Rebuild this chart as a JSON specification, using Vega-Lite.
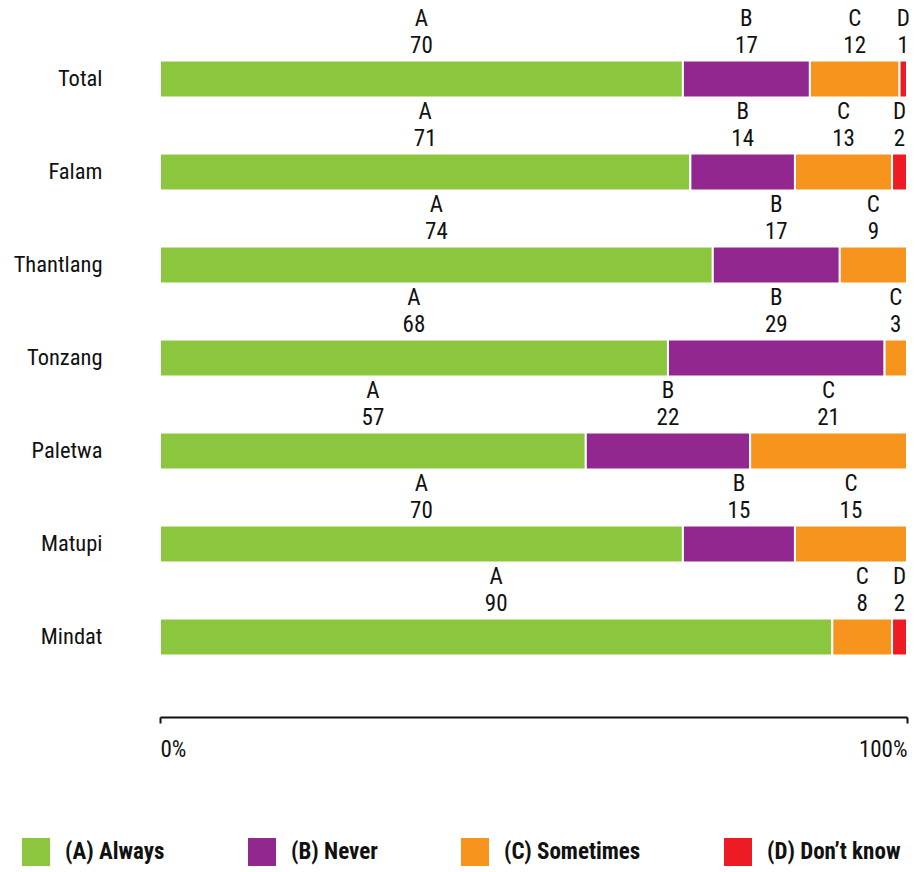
{
  "$schema": "https://vega.github.io/schema/vega-lite/v6.json",
  "autosize": {"type": "none"},
  "width": 747,
  "height": 651,
  "padding": {"left": 160, "top": 10, "right": 8, "bottom": 211},
  "background": "white",
  "config": {
    "font": "Roboto Condensed, Roboto, sans-serif",
    "view": {"stroke": null}
  },
  "data": {
    "values": [
      {"region": "Total", "code": "A", "answer": "(A) Always", "value": 70},
      {"region": "Total", "code": "B", "answer": "(B) Never", "value": 17},
      {"region": "Total", "code": "C", "answer": "(C) Sometimes", "value": 12},
      {"region": "Total", "code": "D", "answer": "(D) Don’t know", "value": 1},
      {"region": "Falam", "code": "A", "answer": "(A) Always", "value": 71},
      {"region": "Falam", "code": "B", "answer": "(B) Never", "value": 14},
      {"region": "Falam", "code": "C", "answer": "(C) Sometimes", "value": 13},
      {"region": "Falam", "code": "D", "answer": "(D) Don’t know", "value": 2},
      {"region": "Thantlang", "code": "A", "answer": "(A) Always", "value": 74},
      {"region": "Thantlang", "code": "B", "answer": "(B) Never", "value": 17},
      {"region": "Thantlang", "code": "C", "answer": "(C) Sometimes", "value": 9},
      {"region": "Tonzang", "code": "A", "answer": "(A) Always", "value": 68},
      {"region": "Tonzang", "code": "B", "answer": "(B) Never", "value": 29},
      {"region": "Tonzang", "code": "C", "answer": "(C) Sometimes", "value": 3},
      {"region": "Paletwa", "code": "A", "answer": "(A) Always", "value": 57},
      {"region": "Paletwa", "code": "B", "answer": "(B) Never", "value": 22},
      {"region": "Paletwa", "code": "C", "answer": "(C) Sometimes", "value": 21},
      {"region": "Matupi", "code": "A", "answer": "(A) Always", "value": 70},
      {"region": "Matupi", "code": "B", "answer": "(B) Never", "value": 15},
      {"region": "Matupi", "code": "C", "answer": "(C) Sometimes", "value": 15},
      {"region": "Mindat", "code": "A", "answer": "(A) Always", "value": 90},
      {"region": "Mindat", "code": "C", "answer": "(C) Sometimes", "value": 8},
      {"region": "Mindat", "code": "D", "answer": "(D) Don’t know", "value": 2}
    ]
  },
  "transform": [
    {"stack": "value", "groupby": ["region"], "sort": [{"field": "code", "order": "ascending"}], "as": ["x0", "x1"]},
    {"calculate": "(datum.x0 + datum.x1) / 2", "as": "mid"}
  ],
  "encoding": {
    "y": {
      "field": "region",
      "type": "nominal",
      "sort": ["Total", "Falam", "Thantlang", "Tonzang", "Paletwa", "Matupi", "Mindat"],
      "scale": {"paddingInner": 0, "paddingOuter": 0},
      "axis": {
        "title": null,
        "domain": false,
        "ticks": false,
        "labelPadding": 58,
        "labelFontSize": 22.5,
        "labelColor": "#111",
        "labelOffset": 22
      }
    }
  },
  "layer": [
    {
      "mark": {"type": "bar", "size": 37, "yOffset": 22.5, "stroke": "white", "strokeWidth": 2},
      "encoding": {
        "x": {
          "field": "x0",
          "type": "quantitative",
          "scale": {"domain": [0, 100], "nice": false},
          "axis": {
            "title": null,
            "grid": false,
            "values": [0, 100],
            "offset": 56,
            "domainColor": "#111",
            "domainWidth": 2,
            "tickColor": "#111",
            "tickWidth": 2,
            "tickSize": 6,
            "labelFlush": true,
            "labelExpr": "datum.value + '%'",
            "labelFontSize": 23,
            "labelColor": "#111",
            "labelPadding": 15
          }
        },
        "x2": {"field": "x1"},
        "color": {
          "field": "answer",
          "type": "nominal",
          "scale": {
            "domain": ["(A) Always", "(B) Never", "(C) Sometimes", "(D) Don’t know"],
            "range": ["#8cc63f", "#92278f", "#f7941d", "#ed1c24"]
          },
          "legend": {
            "title": null,
            "orient": "none",
            "direction": "horizontal",
            "legendX": -138,
            "legendY": 828,
            "padding": 0,
            "symbolType": "square",
            "symbolSize": 784,
            "symbolStrokeWidth": 0,
            "symbolOpacity": 1,
            "labelFontSize": 23,
            "labelFontWeight": "bold",
            "labelColor": "#111",
            "labelOffset": 15,
            "columnPadding": 83,
            "labelLimit": 300
          }
        }
      }
    },
    {
      "mark": {"type": "text", "yOffset": -10.5, "fontSize": 23, "color": "#111", "baseline": "middle", "align": "center"},
      "encoding": {
        "x": {"field": "mid", "type": "quantitative"},
        "text": {"field": "value", "type": "nominal"}
      }
    },
    {
      "mark": {"type": "text", "yOffset": -37.5, "fontSize": 23, "color": "#111", "baseline": "middle", "align": "center"},
      "encoding": {
        "x": {"field": "mid", "type": "quantitative"},
        "text": {"field": "code", "type": "nominal"}
      }
    }
  ]
}
